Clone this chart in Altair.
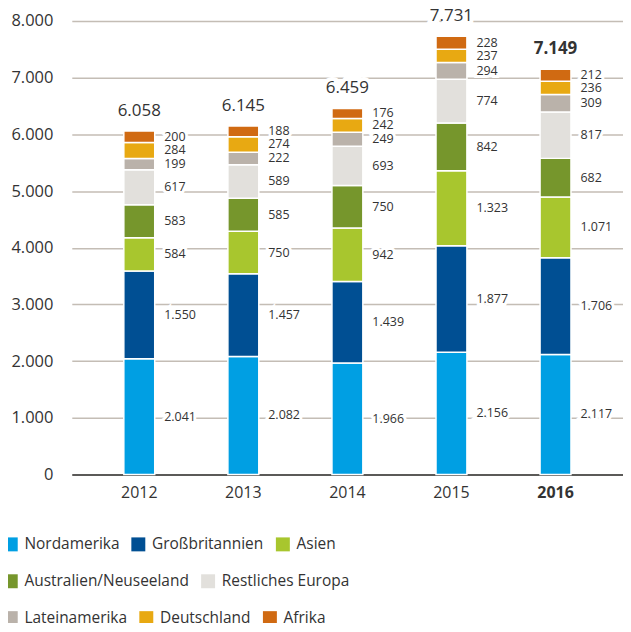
import altair as alt
import pandas as pd

years = ["2012", "2013", "2014", "2015", "2016"]
regions = ["Nordamerika", "Großbritannien", "Asien", "Australien/Neuseeland",
           "Restliches Europa", "Lateinamerika", "Deutschland", "Afrika"]
colors = ["#009FE3", "#004F93", "#A8C62E", "#76962C",
          "#E2E0DC", "#BAB2AA", "#E8A912", "#D06A12"]
values = {
    "Nordamerika":           [2041, 2082, 1966, 2156, 2117],
    "Großbritannien":        [1550, 1457, 1439, 1877, 1706],
    "Asien":                 [584, 750, 942, 1323, 1071],
    "Australien/Neuseeland": [583, 585, 750, 842, 682],
    "Restliches Europa":     [617, 589, 693, 774, 817],
    "Lateinamerika":         [199, 222, 249, 294, 309],
    "Deutschland":           [284, 274, 242, 237, 236],
    "Afrika":                [200, 188, 176, 228, 212],
}
totals = [6058, 6145, 6459, 7731, 7149]


def de(n):
    return f"{n:,}".replace(",", ".")


rows = []
for yi, y in enumerate(years):
    base = 0
    for ri, r in enumerate(regions):
        v = values[r][yi]
        rows.append({"year": y, "region": r, "order": ri, "v": v,
                     "y0": base, "y1": base + v, "mid": base + v / 2,
                     "label": de(v)})
        base += v
df = pd.DataFrame(rows)
tot = pd.DataFrame({"year": years, "total": totals,
                    "label": [de(t) for t in totals],
                    "bold": [y == "2016" for y in years]})

FONT = "Open Sans"
TXT = "#333333"

x = alt.X("year:N", title=None,
          scale=alt.Scale(paddingInner=0.703, paddingOuter=0.5),
          axis=alt.Axis(labelFontSize=16, labelColor=TXT, labelFont=FONT, labelAngle=0,
                        labelPadding=10, ticks=False, domain=True,
                        domainColor="#333333", domainWidth=1.5,
                        labelFontWeight=alt.expr("datum.value == '2016' ? 'bold' : 'normal'")))
yscale = alt.Scale(domain=[0, 8000], nice=False)

bars = alt.Chart(df).mark_bar(stroke="white", strokeWidth=1.5).encode(
    x=x,
    y=alt.Y("y0:Q", scale=yscale, title=None,
            axis=alt.Axis(values=list(range(0, 8001, 1000)), labelFontSize=16.5,
                          labelColor=TXT, labelFont=FONT, labelPadding=19,
                          ticks=False, domain=False, gridColor="#C4BDB5",
                          gridWidth=1.5,
                          labelExpr="replace(format(datum.value, ','), ',', '.')")),
    y2="y1:Q",
    color=alt.Color("region:N", scale=alt.Scale(domain=regions, range=colors), legend=None),
)

halo = alt.Chart(df).mark_text(align="left", baseline="middle", dx=25, fontSize=12.5,
                               font=FONT, fill="white", stroke="white", strokeWidth=6).encode(
    x="year:N", y=alt.Y("mid:Q", scale=yscale), text="label:N")
labels = alt.Chart(df).mark_text(align="left", baseline="middle", dx=25, fontSize=12.5,
                                 font=FONT, color=TXT).encode(
    x="year:N", y=alt.Y("mid:Q", scale=yscale), text="label:N")


def total_layer(bold, is_halo):
    kw = dict(fill="white", stroke="white", strokeWidth=8) if is_halo else dict(color=TXT)
    return alt.Chart(tot).transform_filter(
        "datum.bold" if bold else "!datum.bold"
    ).mark_text(baseline="middle", dy=-20, fontSize=17, font=FONT,
                fontWeight="bold" if bold else "normal", **kw).encode(
        x="year:N", y=alt.Y("total:Q", scale=yscale), text="label:N")


tot_layers = [total_layer(b, h) for h in (True, False) for b in (False, True)]

legend_groups = [regions[0:3], regions[3:5], regions[5:8]]
legend_layers = []
for gi, grp in enumerate(legend_groups):
    sub = df[df["region"].isin(grp) & (df["year"] == "2012")]
    rng = [colors[regions.index(g)] for g in grp]
    legend_layers.append(
        alt.Chart(sub).mark_square(size=0, opacity=0).encode(
            x="year:N", y=alt.Y("y0:Q", scale=yscale),
            color=alt.Color("region:N", title=None,
                            scale=alt.Scale(domain=grp, range=rng),
                            legend=alt.Legend(orient="none", direction="horizontal",
                                              legendX=-69, legendY=517 + gi * 37,
                                              symbolType="square", symbolSize=196,
                                              symbolOpacity=1, symbolStrokeWidth=0,
                                              labelFontSize=15.5, labelFont=FONT,
                                              labelColor=TXT, labelOffset=6,
                                              columnPadding=11, labelLimit=300)))
    )

chart = alt.layer(bars, halo, labels, *tot_layers, *legend_layers).resolve_scale(
    color="independent"
).properties(
    width=553, height=455,
    autosize=alt.AutoSizeParams(type="none"),
    padding={"left": 64, "top": 12, "right": 0, "bottom": 148},
).configure_view(stroke=None)

chart.save("out.html", embed_options={"renderer": "svg", "actions": False})
